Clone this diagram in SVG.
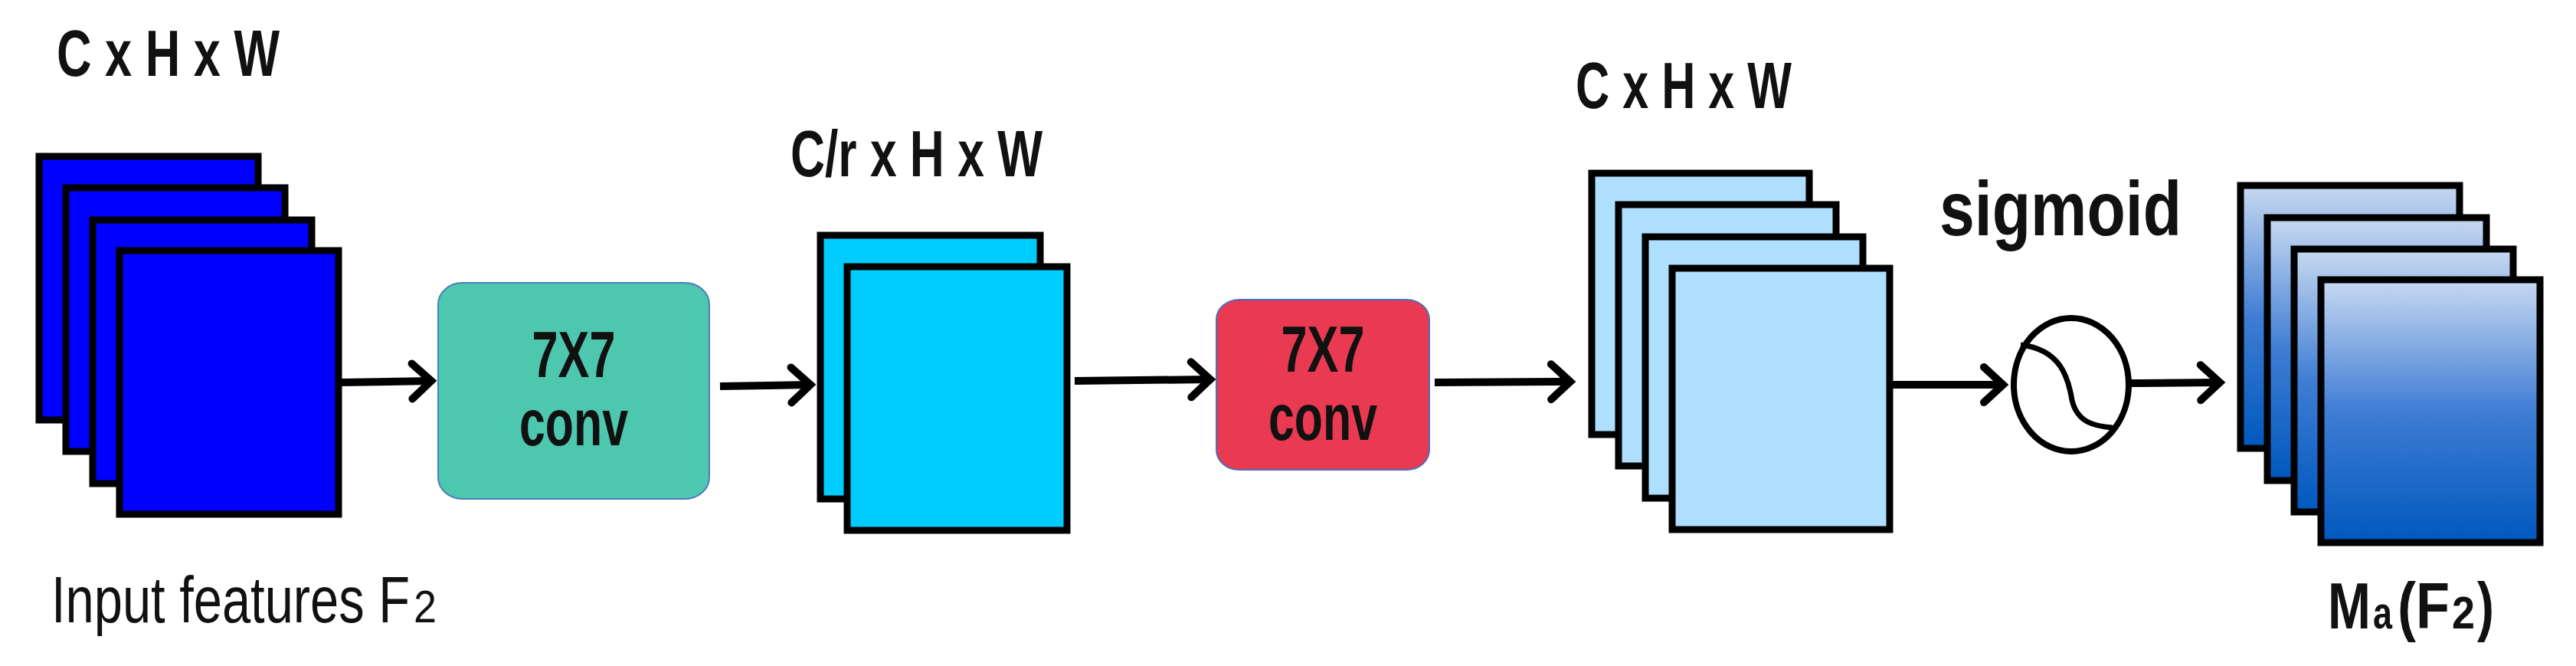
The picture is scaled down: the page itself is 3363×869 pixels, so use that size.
<svg xmlns="http://www.w3.org/2000/svg" width="3363" height="869" viewBox="0 0 3363 869">
<style>
.t{font-family:"Liberation Sans",Arial,sans-serif;font-weight:bold;fill:#111}
.n{font-family:"Liberation Sans",Arial,sans-serif;fill:#111}
.fm{stroke:#000;stroke-width:9}
.blue{fill:#0000FF}.cyan{fill:#00CCFF}.lb{fill:#AEDFFE}.gr{fill:url(#g)}
.c{fill:none;stroke:#000;stroke-width:10}
</style>
<defs>
<linearGradient id="g" x1="0" y1="0" x2="0" y2="1"><stop offset="0" stop-color="#C8D9F1"/><stop offset="0.5" stop-color="#3F7DD4"/><stop offset="1" stop-color="#0058BD"/></linearGradient>
<marker id="a" markerUnits="userSpaceOnUse" markerWidth="40" markerHeight="60" refX="32" refY="30" orient="auto"><path d="M7,7 L32,30 L7,53" fill="none" stroke="#000" stroke-width="10" stroke-linecap="round"/></marker>
</defs>
<rect width="3363" height="869" fill="#fff"/>
<g id="input">
<text class="t" x="74" y="99" font-size="86" textLength="291" lengthAdjust="spacingAndGlyphs">C x H x W</text>
<rect class="fm blue" x="51" y="204" width="286" height="344"/>
<rect class="fm blue" x="86" y="245" width="286" height="344"/>
<rect class="fm blue" x="121" y="287" width="286" height="344"/>
<rect class="fm blue" x="156" y="327" width="286" height="344"/>
<text class="n" x="67" y="812" font-size="86" textLength="468" lengthAdjust="spacingAndGlyphs">Input features F</text>
<text class="n" x="540" y="812" font-size="60" textLength="30" lengthAdjust="spacingAndGlyphs">2</text>
</g>
<g id="conv1">
<rect x="572" y="369" width="354" height="282" rx="32" ry="28" fill="#4DC8AF" stroke="#4A7EBB" stroke-width="2"/>
<text class="t" x="749" y="492" font-size="86" text-anchor="middle" textLength="109" lengthAdjust="spacingAndGlyphs">7X7</text>
<text class="t" x="749" y="581" font-size="86" text-anchor="middle" textLength="142" lengthAdjust="spacingAndGlyphs">conv</text>
</g>
<g id="mid">
<text class="t" x="1032" y="230" font-size="86" textLength="329" lengthAdjust="spacingAndGlyphs">C/r x H x W</text>
<rect class="fm cyan" x="1071" y="307" width="287" height="344"/>
<rect class="fm cyan" x="1106" y="348" width="287" height="344"/>
</g>
<g id="conv2">
<rect x="1588" y="391" width="278" height="222" rx="30" ry="26" fill="#E93A51" stroke="#4A6FBB" stroke-width="2"/>
<text class="t" x="1727" y="485" font-size="86" text-anchor="middle" textLength="109" lengthAdjust="spacingAndGlyphs">7X7</text>
<text class="t" x="1727" y="574" font-size="86" text-anchor="middle" textLength="142" lengthAdjust="spacingAndGlyphs">conv</text>
</g>
<g id="out1">
<text class="t" x="2057" y="141" font-size="86" textLength="282" lengthAdjust="spacingAndGlyphs">C x H x W</text>
<rect class="fm lb" x="2078" y="226" width="284" height="341"/>
<rect class="fm lb" x="2113" y="267" width="284" height="341"/>
<rect class="fm lb" x="2148" y="309" width="284" height="341"/>
<rect class="fm lb" x="2183" y="350" width="284" height="341"/>
</g>
<g id="sigmoid">
<text class="t" x="2532" y="307" font-size="100" textLength="316" lengthAdjust="spacingAndGlyphs">sigmoid</text>
<ellipse cx="2704" cy="502" rx="75" ry="87" fill="#fff" stroke="#000" stroke-width="8"/>
<path d="M2638,450 C2690,456 2700,492 2705,522 C2712,552 2735,556 2758,558" fill="none" stroke="#000" stroke-width="7"/>
</g>
<g id="out2">
<rect class="fm gr" x="2925" y="242" width="286" height="343"/>
<rect class="fm gr" x="2960" y="284" width="286" height="343"/>
<rect class="fm gr" x="2995" y="325" width="286" height="343"/>
<rect class="fm gr" x="3030" y="365" width="286" height="343"/>
<text class="t" x="3039" y="820" font-size="86" textLength="56" lengthAdjust="spacingAndGlyphs">M</text>
<text class="t" x="3098" y="820" font-size="60" textLength="25" lengthAdjust="spacingAndGlyphs">a</text>
<text class="t" x="3130" y="820" font-size="86" textLength="68" lengthAdjust="spacingAndGlyphs">(F</text>
<text class="t" x="3201" y="820" font-size="60" textLength="30" lengthAdjust="spacingAndGlyphs">2</text>
<text class="t" x="3234" y="820" font-size="86" textLength="22" lengthAdjust="spacingAndGlyphs">)</text>
</g>
<g id="connectors">
<path class="c" d="M445,499 L563,497" marker-end="url(#a)"/>
<path class="c" d="M940,504 L1058,502" marker-end="url(#a)"/>
<path class="c" d="M1403,497 L1580,495" marker-end="url(#a)"/>
<path class="c" d="M1873,499 L2050,498" marker-end="url(#a)"/>
<path class="c" d="M2471,502 L2615,502" marker-end="url(#a)"/>
<path class="c" d="M2782,500 L2898,499" marker-end="url(#a)"/>
</g>
</svg>
